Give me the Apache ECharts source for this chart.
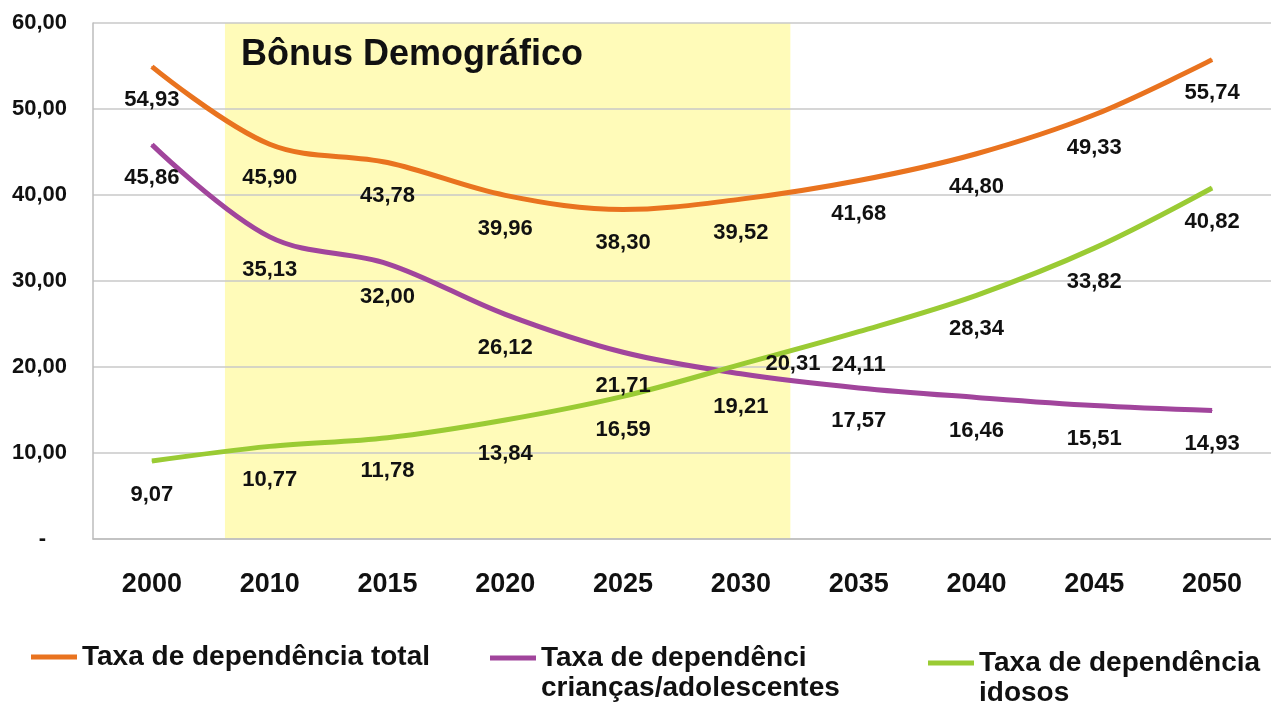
<!DOCTYPE html>
<html>
<head>
<meta charset="utf-8">
<title>Bônus Demográfico</title>
<script src="https://cdn.jsdelivr.net/npm/echarts@6/dist/echarts.min.js"></script>
<style>
    html, body { margin: 0; padding: 0; background: #fff; }
    #chart { width: 1271px; height: 704px; }
</style>
</head>
<body>
<div id="chart"></div>
<script>
    // dados
    const years = ['2000', '2010', '2015', '2020', '2025', '2030', '2035', '2040', '2045', '2050'];
    const taxaTotal = [54.93, 45.90, 43.78, 39.96, 38.30, 39.52, 41.68, 44.80, 49.33, 55.74];
    const taxaCriancas = [45.86, 35.13, 32.00, 26.12, 21.71, 19.21, 17.57, 16.46, 15.51, 14.93];
    const taxaIdosos = [9.07, 10.77, 11.78, 13.84, 16.59, 20.31, 24.11, 28.34, 33.82, 40.82];
    const yTicks = [0, 10, 20, 30, 40, 50, 60];
    // período do bônus, em posição de categoria (índice)
    const bonusStart = 0.62;
    const bonusEnd = 5.42;

    const FONT = 'Liberation Sans, Arial, sans-serif';
    const fmt = v => v.toFixed(2).replace('.', ',');

    const labelBelow = {
        show: true,
        position: 'bottom',
        distance: 22,
        color: '#111',
        fontFamily: FONT,
        fontWeight: 'bold',
        fontSize: 22,
        formatter: p => fmt(p.value)
    };

    function lineSeries(name, data, color) {
        return {
            name: name,
            type: 'line',
            data: data,
            smooth: 0.35,
            symbol: 'circle',
            symbolSize: 1,
            itemStyle: { color: color },
            lineStyle: { color: color, width: 5 },
            label: labelBelow,
            z: 3
        };
    }

    const idososData = taxaIdosos.map((v, i) =>
        i === 5 ? { value: v, label: { position: 'right', distance: 24 } } : v
    );

    const chart = echarts.init(document.getElementById('chart'));
    const legendText = {
        color: '#111',
        fontFamily: FONT,
        fontWeight: 'bold',
        fontSize: 28,
        lineHeight: 30
    };

    chart.setOption({
        animation: false,
        textStyle: { fontFamily: FONT },
        title: {
            text: 'Bônus Demográfico',
            left: 241,
            top: 37,
            padding: 0,
            textStyle: { color: '#111', fontFamily: FONT, fontWeight: 'bold', fontSize: 36 }
        },
        legend: [
            {
                data: ['Taxa de dependência total'],
                left: 31, top: 642, padding: 0,
                icon: 'rect', itemWidth: 46, itemHeight: 5, itemGap: 0,
                textStyle: legendText
            },
            {
                data: ['Taxa de dependênci\ncrianças/adolescentes'],
                left: 490, top: 613, padding: 0,
                icon: 'rect', itemWidth: 46, itemHeight: 5,
                formatter: name => '\n' + name,
                textStyle: legendText
            },
            {
                data: ['Taxa de dependência\nidosos'],
                left: 928, top: 618, padding: 0,
                icon: 'rect', itemWidth: 46, itemHeight: 5,
                formatter: name => '\n' + name,
                textStyle: legendText
            }
        ],
        grid: { left: 93, top: 23, width: 1183, bottom: 165 },
        xAxis: [
            {
                type: 'category',
                data: years,
                boundaryGap: true,
                axisLine: { show: true, lineStyle: { color: '#bdbdbd', width: 1.5 } },
                axisTick: { show: false },
                axisLabel: {
                    color: '#111', fontFamily: FONT, fontWeight: 'bold', fontSize: 27,
                    margin: 32, interval: 0
                }
            },
            {
                type: 'value',
                min: -0.5,
                max: 9.5,
                show: false
            }
        ],
        yAxis: {
            type: 'value',
            min: 0,
            max: 60,
            interval: 10,
            axisLine: { show: true, onZero: false, lineStyle: { color: '#bdbdbd', width: 1.5 } },
            axisTick: { show: false },
            splitLine: { show: true, lineStyle: { color: '#c8c8c8', width: 1.5 } },
            axisLabel: {
                margin: 26,
                color: '#111', fontFamily: FONT, fontWeight: 'bold', fontSize: 22,
                formatter: v => yTicks.indexOf(v) === 0 ? '{z|-}' : fmt(v),
                rich: { z: { fontSize: 22, fontWeight: 'bold', color: '#111', padding: [0, 21, 0, 0] } }
            }
        },
        series: [
            {
                name: 'bonus',
                type: 'line',
                xAxisIndex: 1,
                data: [],
                z: -1,
                silent: true,
                markArea: {
                    silent: true,
                    z: -1,
                    itemStyle: { color: '#fffbb9' },
                    data: [[{ xAxis: bonusStart }, { xAxis: bonusEnd }]]
                }
            },
            lineSeries('Taxa de dependência total', taxaTotal, '#e9731f'),
            lineSeries('Taxa de dependênci\ncrianças/adolescentes', taxaCriancas, '#a1459c'),
            lineSeries('Taxa de dependência\nidosos', idososData, '#9acb34')
        ]
    });

    window.addEventListener('resize', () => chart.resize());
</script>
</body>
</html>
